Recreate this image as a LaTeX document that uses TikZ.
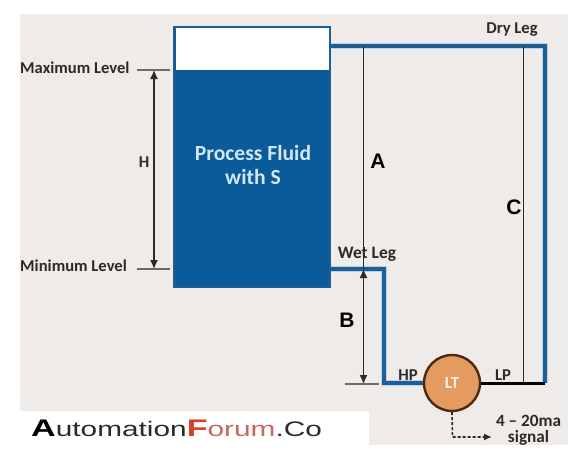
\documentclass[tikz,border=0pt]{standalone}
\usepackage{fontspec}
\setmainfont{Carlito}
\newfontfamily\logofont[FakeStretch=1.42]{Liberation Sans}
\newfontfamily\letterfont{Liberation Sans}
\usepackage{xcolor}
\usetikzlibrary{arrows.meta,positioning}
\definecolor{panel}{HTML}{EFEBE8}
\definecolor{fluid}{HTML}{0B5A9A}
\definecolor{pipeblue}{HTML}{1F5E93}
\definecolor{halo}{HTML}{B5D3EA}
\definecolor{ink}{HTML}{2B2A28}
\definecolor{paletext}{HTML}{D3E6F3}
\definecolor{ltfill}{HTML}{E39B5F}
\definecolor{ltedge}{HTML}{4A2A14}
\definecolor{logored}{HTML}{D8402E}
\definecolor{logopink}{HTML}{C9685E}

\begin{document}
\begin{tikzpicture}[x=1pt,y=-1pt,
  pipe/.style={draw=pipeblue,line width=3.2pt,line join=miter,preaction={draw=halo,line width=5.2pt}},
  dimline/.style={draw=ink,line width=1.2pt},
  tick/.style={draw=ink!70,line width=1.2pt},
  twoway/.style={{Latex[length=9pt,width=8pt]}-{Latex[length=9pt,width=8pt]},draw=ink,line width=1.3pt},
  level/.style={font=\bfseries\fontsize{16.6}{16.6}\selectfont,text=ink,inner sep=0pt},
  smalllabel/.style={font=\bfseries\fontsize{16.6}{16.6}\selectfont,text=ink,inner sep=0pt},
  letter/.style={font=\letterfont\bfseries\fontsize{21}{21}\selectfont,text=black,inner sep=0pt},
  logo/.style={font=\logofont\fontsize{21}{21}\selectfont,inner sep=0pt}
]
\useasboundingbox (0,0) rectangle (584,461);
% backgrounds
\fill[panel] (20,14) rectangle (568,445);
\fill[white] (20,411) rectangle (369,445);
% tank
\node[draw=pipeblue,line width=2.4pt,fill=fluid,minimum width=156pt,minimum height=260pt,inner sep=0pt] (tank) at (252,157) {};
\node[fill=white,minimum width=153pt,minimum height=42pt,inner sep=0pt] (headspace) at (252.5,48.5) {};
\node[font=\bfseries\fontsize{21.6}{24}\selectfont,text=paletext,align=center] (fluidtext) at (253,165) {Process Fluid\\with S};
% level marks
\node[level,anchor=west] (maxlevel) at (20,68) {Maximum Level};
\node[level,anchor=west] (minlevel) at (20,266) {Minimum Level};
\coordinate (maxl) at (137,70);
\coordinate (maxr) at (170,70);
\coordinate (minl) at (137,269);
\coordinate (minr) at (170,269);
\coordinate (htop) at (154,70);
\coordinate (hbot) at (154,269);
\draw[tick] (maxl)--(maxr);
\draw[tick] (minl)--(minr);
\draw[twoway] (htop)--(hbot);
\node[smalllabel] (hlabel) at (144,162) {H};
% transmitter
\node[circle,draw=ltedge,line width=2.4pt,fill=ltfill,minimum size=56pt,inner sep=0pt,font=\bfseries\fontsize{17}{17}\selectfont,text=white!85!ltfill] (lt) at (452,383) {LT};
% legs
\coordinate (drystart) at (331,46);
\coordinate (drycorner) at (545,46);
\coordinate (lpcorner) at (545,383);
\coordinate (wetstart) at (331,269);
\coordinate (wetcorner) at (384,269);
\coordinate (hpcorner) at (384,383);
\draw[pipe] (drystart)--(drycorner)--(lpcorner);
\draw[pipe] (wetstart)--(wetcorner)--(hpcorner)--(lt.west);
\draw[draw=black,line width=3pt] (lt.east)--(lpcorner);
\node[smalllabel] (dryleg) at (512,30) {Dry Leg};
\node[smalllabel,font=\bfseries\fontsize{17.5}{17.5}\selectfont] (wetleg) at (367,254) {Wet Leg};
\node[smalllabel] (hp) at (408,375) {HP};
\node[smalllabel] (lp) at (503,375) {LP};
% dimensions
\coordinate (atop) at (363.5,46);
\coordinate (abot) at (363.5,269);
\coordinate (bbot) at (363.5,384);
\coordinate (bl) at (345,384);
\coordinate (br) at (379,384);
\coordinate (ctop) at (523.5,46);
\coordinate (cbot) at (523.5,383);
\draw[dimline] (atop)--(abot);
\draw[twoway] (abot)--(bbot);
\draw[tick] (bl)--(br);
\draw[dimline] (ctop)--(cbot);
\node[letter] (alabel) at (378,161) {A};
\node[letter] (blabel) at (347,320) {B};
\node[letter] (clabel) at (514,207) {C};
% signal
\coordinate (sigcorner) at (452.5,437);
\coordinate (sigend) at (492,437);
\node[smalllabel,font=\bfseries\fontsize{17.2}{15.5}\selectfont,align=center] (sigtext) at (528.5,430.5) {4 -- 20ma\\signal};
\draw[densely dashed,draw=ink,line width=1.6pt,-{Latex[length=8pt,width=7pt]}] (lt.south)--(sigcorner)--(sigend);
% logo
\node[logo,anchor=west] (logotext) at (31,428) {{\bfseries\fontsize{24}{24}\selectfont A}\textcolor{ink}{utomation}\textcolor{logored}{{\bfseries\fontsize{24}{24}\selectfont F}}\textcolor{logopink}{orum}\textcolor{ink}{.Co}};
\end{tikzpicture}
\end{document}
